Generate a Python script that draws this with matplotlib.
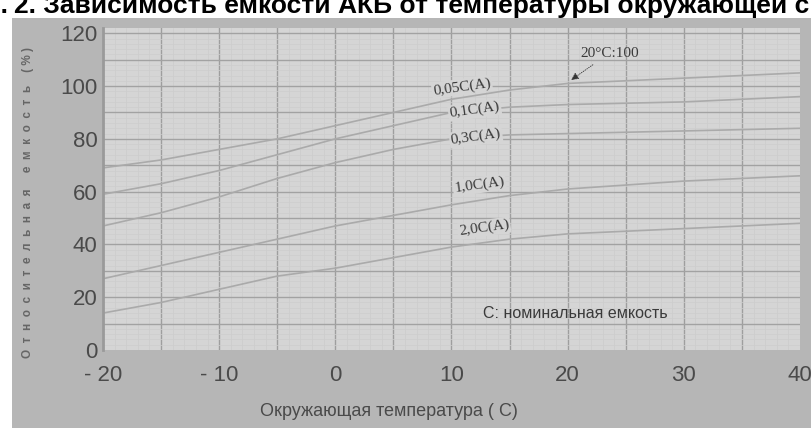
import matplotlib.pyplot as plt
from matplotlib.patches import Rectangle

# температура, °C
temp = [-20, -15, -10, -5, 0, 5, 10, 15, 20, 25, 30, 35, 40]
# относительная емкость, % (по кривым разряда)
cap_005 = [69, 72, 76, 80, 85, 90, 95, 98.5, 101, 102, 103, 104, 105]
cap_01 = [59, 63, 68, 74, 80, 85, 90, 92, 93, 93.5, 94, 95, 96]
cap_03 = [47, 52, 58, 65, 71, 76, 80, 81.5, 82, 82.5, 83, 83.5, 84]
cap_10 = [27, 32, 37, 42, 47, 51, 55, 58.5, 61, 62.5, 64, 65, 66]
cap_20 = [14, 18, 23, 28, 31, 35, 39, 42, 44, 45, 46, 47, 48]
curve_names = ['0,05C(A)', '0,1C(A)', '0,3C(A)', '1,0C(A)', '2,0C(A)']
# место подписей кривых
label_x = [10.9, 12.0, 12.1, 12.4, 12.8]
label_y = [99.7, 90.9, 80.7, 62.5, 46.2]

xticks = [-20, -10, 0, 10, 20, 30, 40]
xticklabels = ['- 20', '- 10', '0', '10', '20', '30', '40']
yticks = [0, 20, 40, 60, 80, 100, 120]

plt.rcParams['font.family'] = ['Liberation Sans', 'DejaVu Sans']

fig = plt.figure(figsize=(8.12, 4.28), dpi=100)
fig.patch.set_facecolor('white')
# серая подложка скана
fig.patches.append(Rectangle((12 / 812, 0), 1, 1 - 18 / 428, transform=fig.transFigure,
                             facecolor='#b6b6b6', edgecolor='none', zorder=-5))

# обрезанный заголовок сверху
fig.text(8 / 812, 1 - 13 / 428, 'Рис.', fontsize=19, fontweight='bold',
         color='black', ha='right', va='baseline')
fig.text(14 / 812, 1 - 13 / 428, '2. Зависимость емкости АКБ от температуры окружающей среды',
         fontsize=19, fontweight='bold', color='black', ha='left', va='baseline')

ax = fig.add_axes([103 / 812, 1 - 350 / 428, 697 / 812, 322 / 428])
ax.set_facecolor('#d5d5d5')
ax.set_xlim(-20, 40)
ax.set_ylim(0, 122)

for x in range(-15, 40, 5):
    ax.axvline(x, color='#9e9e9e', lw=1.0, zorder=1)
for x in range(-19, 40):
    if x % 5:
        ax.axvline(x, color='#cbcbcb', lw=0.5, zorder=1)
for y in range(10, 121, 10):
    ax.axhline(y, color='#a2a2a2', lw=1.0, zorder=1)
for y in range(2, 121, 2):
    if y % 10:
        ax.axhline(y, color='#cdcdcd', lw=0.5, zorder=1)

for vals in [cap_005, cap_01, cap_03, cap_10, cap_20]:
    ax.plot(temp, vals, color='#aaaaaa', lw=1.2, zorder=2)

for name, lx, ly in zip(curve_names, label_x, label_y):
    ax.text(lx, ly, name, family=['Liberation Serif', 'DejaVu Serif'], fontsize=11,
            color='#3a3a3a', ha='center', va='center', rotation=8, zorder=4,
            bbox=dict(facecolor='#d5d5d5', edgecolor='none', pad=1.0))

ax.annotate('20°C:100', xy=(20.3, 102.3), xytext=(23.6, 112.5),
            family=['Liberation Serif', 'DejaVu Serif'], fontsize=11, color='#3a3a3a',
            ha='center', va='center', zorder=4,
            arrowprops=dict(arrowstyle='-|>', color='#333333', lw=0.6, linestyle=':',
                            mutation_scale=11, shrinkA=3, shrinkB=0))

ax.text(20.7, 14.0, 'C: номинальная емкость', fontsize=11.5, color='#3a3a3a',
        ha='center', va='center', zorder=4)

ax.set_xticks(xticks)
ax.set_xticklabels(xticklabels)
ax.set_yticks(yticks)
ax.tick_params(length=0, labelsize=16, labelcolor='#4a4a4a')
ax.tick_params(axis='y', pad=4)
ax.tick_params(axis='x', pad=11)
for side in ['top', 'right', 'bottom']:
    ax.spines[side].set_visible(False)
ax.spines['left'].set_color('#9a9a9a')
ax.spines['left'].set_linewidth(2)

fig.text(389 / 812, 1 - 412 / 428, 'Окружающая температура ( С)', fontsize=13,
         color='#4a4a4a', ha='center', va='center')
ylab = '  '.join('Относительная') + '     ' + '  '.join('емкость') + '    ( % )'
fig.text(28 / 812, 1 - 202 / 428, ylab, rotation=90, fontsize=8.5, fontweight='bold',
         color='#666666', ha='center', va='center')

fig.savefig('out.png', dpi=100)
